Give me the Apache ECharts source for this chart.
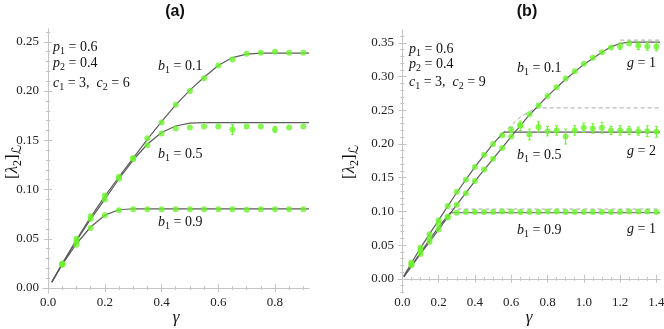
<!DOCTYPE html>
<html>
<head>
<meta charset="utf-8">
<script src="https://cdn.jsdelivr.net/npm/echarts@6/dist/echarts.min.js"></script>
<style>
  html, body { margin: 0; padding: 0; background: #fff; }
  #chart { width: 664px; height: 329px; }
</style>
</head>
<body>
<div id="chart"></div>
<script>
// ====== Panel (a) data ======
const gammaA = [0.05, 0.1, 0.15, 0.2, 0.25, 0.3, 0.35, 0.4, 0.45, 0.5, 0.55, 0.6, 0.65, 0.7, 0.75, 0.8, 0.85, 0.9];
const ptsA_b01 = [0.025, 0.050, 0.073, 0.094, 0.113, 0.132, 0.152, 0.168, 0.186, 0.200, 0.213, 0.226, 0.232, 0.238, 0.239, 0.240, 0.239, 0.239];
const ptsA_b05 = [0.024, 0.047, 0.070, 0.090, 0.111, 0.131, 0.145, 0.157, 0.162, 0.163, 0.164, 0.164, 0.161, 0.164, 0.164, 0.161, 0.163, 0.164];
const errA_b05 = [0, 0, 0, 0, 0, 0, 0, 0, 0, 0, 0, 0, 0.005, 0, 0, 0.003, 0, 0];
const ptsA_b09 = [0.024, 0.044, 0.061, 0.074, 0.079, 0.080, 0.080, 0.080, 0.080, 0.080, 0.080, 0.080, 0.080, 0.0795, 0.080, 0.080, 0.080, 0.080];

const lineGammaA_b01 = [0.013, 0.05, 0.1, 0.15, 0.2, 0.25, 0.3, 0.35, 0.4, 0.45, 0.5, 0.55, 0.6, 0.65, 0.7, 0.75, 0.92];
const lineA_b01 = [0.006, 0.025, 0.049, 0.072, 0.093, 0.113, 0.132, 0.151, 0.169, 0.186, 0.201, 0.214, 0.226, 0.234, 0.2375, 0.2385, 0.2385];
const lineGammaA_b05 = [0.013, 0.05, 0.1, 0.15, 0.2, 0.25, 0.3, 0.35, 0.4, 0.45, 0.5, 0.55, 0.92];
const lineA_b05 = [0.006, 0.025, 0.048, 0.070, 0.090, 0.111, 0.130, 0.146, 0.158, 0.1645, 0.1675, 0.168, 0.168];
const lineGammaA_b09 = [0.013, 0.05, 0.1, 0.15, 0.2, 0.25, 0.3, 0.92];
const lineA_b09 = [0.006, 0.024, 0.045, 0.062, 0.074, 0.0795, 0.0805, 0.0805];

const xTicksA = [0, 0.2, 0.4, 0.6, 0.8];
const yTicksA = [0, 0.05, 0.1, 0.15, 0.2, 0.25];

// ====== Panel (b) data ======
const gammaB = [0.05, 0.1, 0.15, 0.2, 0.25, 0.3, 0.35, 0.4, 0.45, 0.5, 0.55, 0.6, 0.65, 0.7, 0.75, 0.8, 0.85, 0.9, 0.95, 1.0, 1.05, 1.1, 1.15, 1.2, 1.25, 1.3, 1.35, 1.4];
const ptsB_b01 = [0.020, 0.037, 0.055, 0.073, 0.091, 0.110, 0.127, 0.145, 0.162, 0.178, 0.194, 0.211, 0.228, 0.244, 0.257, 0.271, 0.284, 0.297, 0.308, 0.319, 0.328, 0.336, 0.343, 0.345, 0.349, 0.346, 0.345, 0.344];
const errB_b01 = [0, 0, 0, 0, 0, 0, 0, 0, 0, 0, 0, 0, 0, 0, 0, 0, 0, 0, 0, 0, 0, 0, 0, 0.005, 0, 0.006, 0.006, 0.006];
const ptsB_b05 = [0.024, 0.046, 0.066, 0.087, 0.108, 0.129, 0.147, 0.166, 0.184, 0.200, 0.213, 0.221, 0.227, 0.214, 0.225, 0.219, 0.220, 0.211, 0.220, 0.224, 0.223, 0.224, 0.220, 0.220, 0.220, 0.219, 0.219, 0.218];
const errB_b05 = [0, 0, 0, 0, 0, 0, 0, 0, 0, 0, 0, 0.004, 0.007, 0.008, 0.008, 0.007, 0.007, 0.011, 0.007, 0.007, 0.007, 0.008, 0.006, 0.007, 0.006, 0.006, 0.008, 0.008];
const ptsB_b09 = [0.022, 0.042, 0.060, 0.081, 0.092, 0.098, 0.099, 0.099, 0.099, 0.099, 0.100, 0.100, 0.099, 0.099, 0.099, 0.100, 0.100, 0.099, 0.099, 0.099, 0.099, 0.099, 0.099, 0.099, 0.100, 0.100, 0.100, 0.099];

const lineGammaB_b01 = [0.008, 0.1, 0.2, 0.3, 0.4, 0.5, 0.6, 0.7, 0.8, 0.9, 1.0, 1.1, 1.15, 1.2, 1.25, 1.42];
const lineB_b01 = [0.003, 0.037, 0.073, 0.110, 0.145, 0.178, 0.211, 0.243, 0.271, 0.296, 0.318, 0.336, 0.344, 0.349, 0.351, 0.351];
const lineGammaB_b05 = [0.008, 0.1, 0.2, 0.3, 0.4, 0.5, 0.56, 1.42];
const lineB_b05 = [0.004, 0.046, 0.087, 0.128, 0.166, 0.200, 0.2175, 0.2175];
const lineGammaB_b09 = [0.008, 0.1, 0.2, 0.265, 1.42];
const lineB_b09 = [0.003, 0.039, 0.077, 0.098, 0.098];

const dashGammaB_b01 = [1.2, 1.42];
const dashB_b01 = [0.354, 0.354];
const dashGammaB_b05 = [0.5, 0.56, 0.6, 0.65, 0.7, 0.72, 0.75, 1.42];
const dashB_b05 = [0.200, 0.2175, 0.228, 0.240, 0.248, 0.251, 0.2535, 0.2535];
const dashGammaB_b09 = [0.265, 1.42];
const dashB_b09 = [0.1035, 0.1035];

const xTicksB = [0, 0.2, 0.4, 0.6, 0.8, 1.0, 1.2, 1.4];
const yTicksB = [0, 0.05, 0.1, 0.15, 0.2, 0.25, 0.3, 0.35];

// ====== Styles ======
const GREEN = '#6cf22c';
const CURVE = '#5c5c5c';
const DASH = '#a8a8a8';
const FRAME = '#c4c4c4';
const SERIF = "'Liberation Serif', 'DejaVu Serif', serif";

const zip = (xs, ys) => xs.map((x, i) => [x, ys[i]]);

// minor tick positions between the major ones
function minorTicks(min, max, step) {
  const out = [];
  const start = Math.ceil(min / step - 1e-9);
  for (let k = start; k * step <= max + 1e-9; k++) out.push(+(k * step).toFixed(4));
  return out;
}

// 4 axes per direction: main + minor ticks, on both sides of the frame
function makeAxes(dir, grid, min, max, major, minor, dec) {
  const base = { type: 'value', gridIndex: grid, min, max, splitLine: { show: false } };
  const sides = dir === 'x' ? ['bottom', 'top'] : ['left', 'right'];
  const out = [];
  sides.forEach((pos, si) => {
    out.push({
      ...base, position: pos,
      axisLine: { show: true, lineStyle: { color: FRAME, width: 1 } },
      axisTick: { show: true, inside: true, length: 4, customValues: major, lineStyle: { color: FRAME } },
      axisLabel: si === 0 ? {
        show: true, customValues: major, formatter: v => v.toFixed(dec),
        margin: dir === 'x' ? 3 : 4, fontFamily: SERIF, fontSize: 13, color: '#222'
      } : { show: false }
    });
    out.push({
      ...base, position: pos,
      axisLine: { show: false },
      axisTick: { show: true, inside: true, length: 2, customValues: minor, lineStyle: { color: FRAME } },
      axisLabel: { show: false }
    });
  });
  return out;
}

function lineSeries(ax, xs, ys, dashed) {
  return {
    type: 'line', xAxisIndex: ax, yAxisIndex: ax, data: zip(xs, ys),
    showSymbol: false, silent: true, z: dashed ? 2 : 3,
    lineStyle: dashed ? { color: DASH, width: 1, type: [4, 3] } : { color: CURVE, width: 1.2 }
  };
}

function pointSeries(ax, xs, ys) {
  return {
    type: 'scatter', xAxisIndex: ax, yAxisIndex: ax, data: zip(xs, ys),
    symbolSize: 6, itemStyle: { color: GREEN }, z: 5
  };
}

function errorSeries(ax, xs, ys, errs) {
  const data = [];
  xs.forEach((x, i) => { if (errs[i] > 0) data.push([x, ys[i] - errs[i], ys[i] + errs[i]]); });
  return {
    type: 'custom', xAxisIndex: ax, yAxisIndex: ax, z: 4, data,
    renderItem: (params, api) => {
      const lo = api.coord([api.value(0), api.value(1)]);
      const hi = api.coord([api.value(0), api.value(2)]);
      const st = { stroke: GREEN, lineWidth: 1 };
      return {
        type: 'group', children: [
          { type: 'line', shape: { x1: lo[0], y1: lo[1], x2: hi[0], y2: hi[1] }, style: st },
          { type: 'line', shape: { x1: lo[0] - 1.5, y1: lo[1], x2: lo[0] + 1.5, y2: lo[1] }, style: st },
          { type: 'line', shape: { x1: hi[0] - 1.5, y1: hi[1], x2: hi[0] + 1.5, y2: hi[1] }, style: st }
        ]
      };
    }
  };
}

// math-like labels
const rich = {
  i: { fontFamily: SERIF, fontStyle: 'italic', fontSize: 14, lineHeight: 18, fill: '#111' },
  n: { fontFamily: SERIF, fontSize: 14, lineHeight: 18, fill: '#111' },
  s: { fontFamily: SERIF, fontSize: 10, lineHeight: 10, verticalAlign: 'bottom', fill: '#111' }
};
const richY = {
  i: { fontFamily: SERIF, fontStyle: 'italic', fontSize: 17, lineHeight: 22, fill: '#111' },
  n: { fontFamily: SERIF, fontSize: 17, lineHeight: 22, fill: '#111' },
  s: { fontFamily: SERIF, fontSize: 12, lineHeight: 12, verticalAlign: 'bottom', fill: '#111' },
  L: { fontFamily: "'DejaVu Serif', 'DejaVu Sans', serif", fontStyle: 'italic', fontSize: 13, lineHeight: 13, verticalAlign: 'bottom', fill: '#111' }
};
function mathText(x, y, text, extra) {
  return Object.assign({
    type: 'text', x, y, silent: true,
    style: { text, rich, verticalAlign: 'middle', align: 'left' }
  }, extra || {});
}
const yName = '{n|[}{i|λ}{s|2}{n|]}{L|ℒ}';
function yLabel(x, y) {
  return { type: 'text', x, y, rotation: Math.PI / 2, silent: true,
    style: { text: yName, rich: richY, align: 'center', verticalAlign: 'middle' } };
}

const chart = echarts.init(document.getElementById('chart'));

const option = {
  animation: false,
  grid: [
    { left: 43, top: 29, width: 266, height: 264, outerBoundsMode: 'none', containLabel: false },
    { left: 398, top: 30, width: 262, height: 263, outerBoundsMode: 'none', containLabel: false }
  ],
  xAxis: [
    ...makeAxes('x', 0, -0.018, 0.92, xTicksA, minorTicks(-0.018, 0.92, 0.05), 1),
    ...makeAxes('x', 1, -0.024, 1.42, xTicksB, minorTicks(-0.024, 1.42, 0.05), 1)
  ],
  yAxis: [
    ...makeAxes('y', 0, -0.005, 0.263, yTicksA, minorTicks(-0.005, 0.263, 0.01), 2),
    ...makeAxes('y', 1, -0.021, 0.369, yTicksB, minorTicks(-0.021, 0.369, 0.01), 2)
  ],
  series: [
    lineSeries(0, lineGammaA_b01, lineA_b01),
    lineSeries(0, lineGammaA_b05, lineA_b05),
    lineSeries(0, lineGammaA_b09, lineA_b09),
    errorSeries(0, gammaA, ptsA_b05, errA_b05),
    pointSeries(0, gammaA, ptsA_b01),
    pointSeries(0, gammaA, ptsA_b05),
    pointSeries(0, gammaA, ptsA_b09),

    lineSeries(4, dashGammaB_b01, dashB_b01, true),
    lineSeries(4, dashGammaB_b05, dashB_b05, true),
    lineSeries(4, dashGammaB_b09, dashB_b09, true),
    lineSeries(4, lineGammaB_b01, lineB_b01),
    lineSeries(4, lineGammaB_b05, lineB_b05),
    lineSeries(4, lineGammaB_b09, lineB_b09),
    errorSeries(4, gammaB, ptsB_b01, errB_b01),
    errorSeries(4, gammaB, ptsB_b05, errB_b05),
    pointSeries(4, gammaB, ptsB_b01),
    pointSeries(4, gammaB, ptsB_b05),
    pointSeries(4, gammaB, ptsB_b09)
  ],
  graphic: [
    { type: 'text', x: 175, y: 12, style: { text: '(a)', font: 'bold 16px "Liberation Sans", Arial, sans-serif', align: 'center', verticalAlign: 'middle', fill: '#111' } },
    { type: 'text', x: 527, y: 12, style: { text: '(b)', font: 'bold 16px "Liberation Sans", Arial, sans-serif', align: 'center', verticalAlign: 'middle', fill: '#111' } },

    yLabel(13, 162),
    yLabel(350, 162),
    { type: 'text', x: 176, y: 318, style: { text: 'γ', font: 'italic 17px ' + SERIF, align: 'center', verticalAlign: 'middle', fill: '#111' } },
    { type: 'text', x: 529, y: 318, style: { text: 'γ', font: 'italic 17px ' + SERIF, align: 'center', verticalAlign: 'middle', fill: '#111' } },

    mathText(53, 47, '{i|p}{s|1}{n| = 0.6}'),
    mathText(53, 63, '{i|p}{s|2}{n| = 0.4}'),
    mathText(53, 83, '{i|c}{s|1}{n| = 3,  }{i|c}{s|2}{n| = 6}'),
    mathText(158, 66, '{i|b}{s|1}{n| = 0.1}'),
    mathText(158, 154, '{i|b}{s|1}{n| = 0.5}'),
    mathText(158, 222, '{i|b}{s|1}{n| = 0.9}'),

    mathText(409, 49, '{i|p}{s|1}{n| = 0.6}'),
    mathText(409, 64, '{i|p}{s|2}{n| = 0.4}'),
    mathText(409, 82, '{i|c}{s|1}{n| = 3,  }{i|c}{s|2}{n| = 9}'),
    mathText(517, 68, '{i|b}{s|1}{n| = 0.1}'),
    mathText(517, 155, '{i|b}{s|1}{n| = 0.5}'),
    mathText(517, 230, '{i|b}{s|1}{n| = 0.9}'),
    mathText(627, 63, '{i|g}{n| = 1}'),
    mathText(627, 151, '{i|g}{n| = 2}'),
    mathText(627, 229, '{i|g}{n| = 1}')
  ]
};

chart.setOption(option);
</script>
</body>
</html>
